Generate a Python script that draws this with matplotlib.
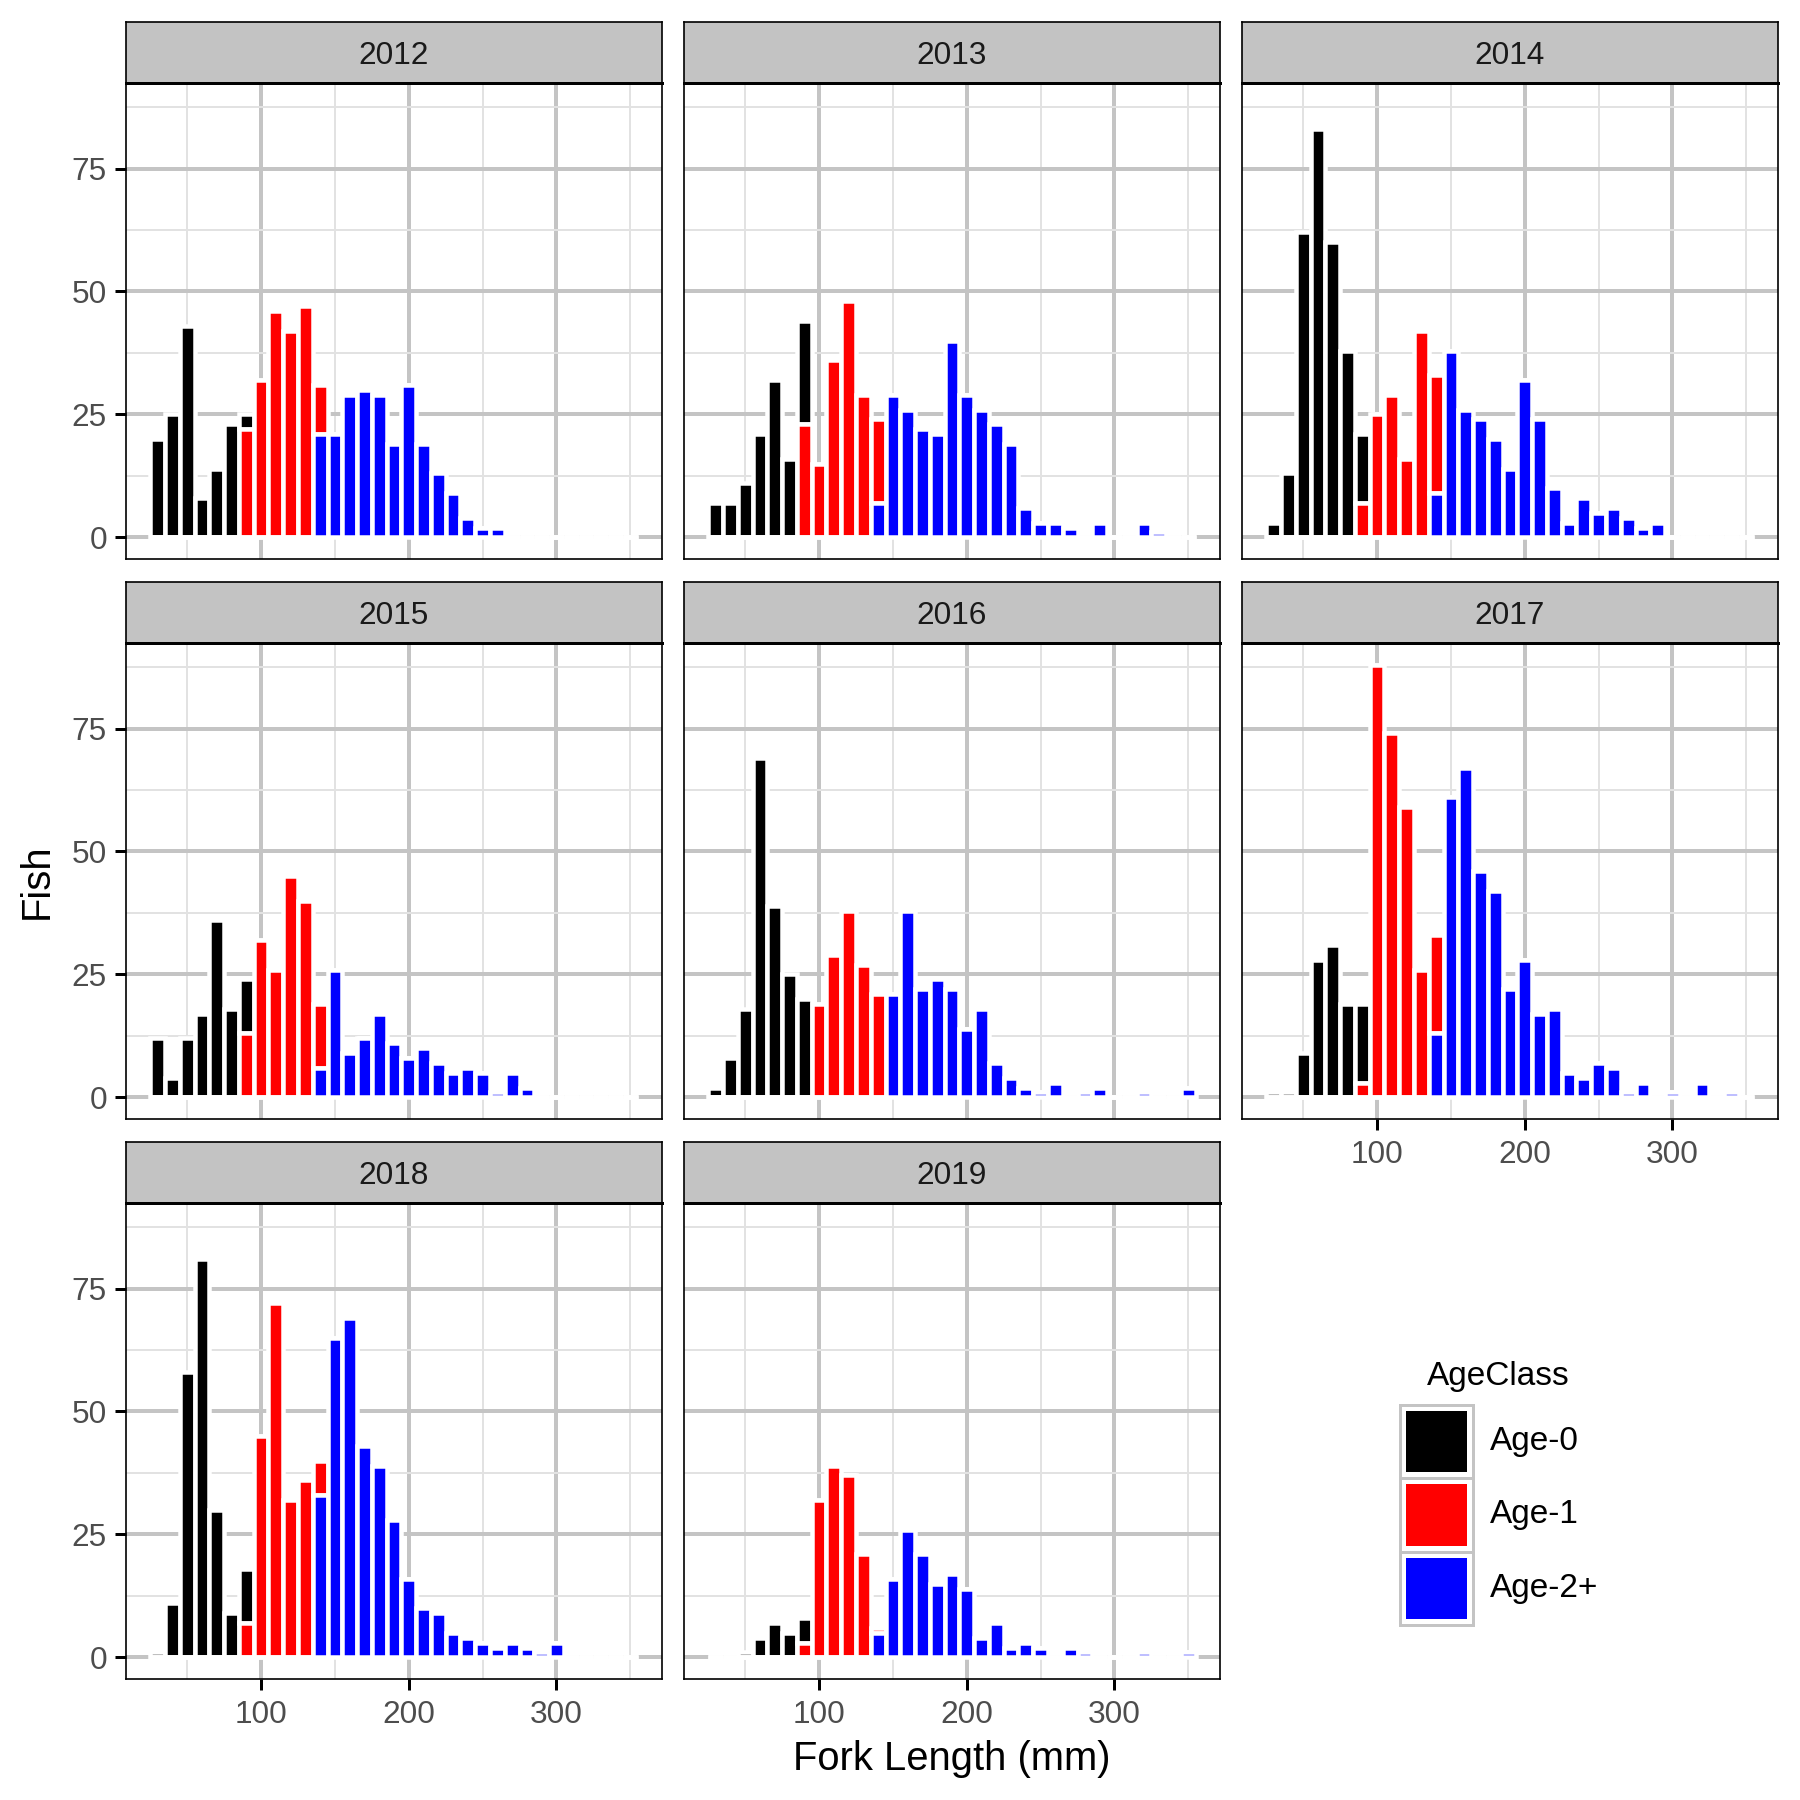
import numpy as np
import matplotlib.pyplot as plt
from matplotlib.patches import Rectangle

plt.rcParams['font.family'] = ['Liberation Sans', 'DejaVu Sans']

# 10 mm bins, centres 30..350
fork_length = list(range(30, 360, 10))

# counts per bin
age0_2012 = [20, 25, 43, 8, 14, 23, 3] + [0] * 26
age1_2012 = [0] * 6 + [22, 32, 46, 42, 47, 10] + [0] * 21
age2_2012 = [0] * 11 + [21, 21, 29, 30, 29, 19, 31, 19, 13, 9, 4, 2, 2] + [0] * 9

age0_2013 = [7, 7, 11, 21, 32, 16, 21] + [0] * 26
age1_2013 = [0] * 6 + [23, 15, 36, 48, 29, 17] + [0] * 21
age2_2013 = [0] * 11 + [7, 29, 26, 22, 21, 40, 29, 26, 23, 19, 6, 3, 3, 2, 0, 3, 0, 0, 3, 1, 0, 0]

age0_2014 = [3, 13, 62, 83, 60, 38, 14] + [0] * 26
age1_2014 = [0] * 6 + [7, 25, 29, 16, 42, 24] + [0] * 21
age2_2014 = [0] * 11 + [9, 38, 26, 24, 20, 14, 32, 24, 10, 3, 8, 5, 6, 4, 2, 3] + [0] * 6

age0_2015 = [12, 4, 12, 17, 36, 18, 11] + [0] * 26
age1_2015 = [0] * 6 + [13, 32, 26, 45, 40, 13] + [0] * 21
age2_2015 = [0] * 11 + [6, 26, 9, 12, 17, 11, 8, 10, 7, 5, 6, 5, 1, 5, 2] + [0] * 7

age0_2016 = [2, 8, 18, 69, 39, 25, 20] + [0] * 26
age1_2016 = [0] * 7 + [19, 29, 38, 27, 21] + [0] * 21
age2_2016 = [0] * 12 + [21, 38, 22, 24, 22, 14, 18, 7, 4, 2, 1, 3, 0, 1, 2, 0, 0, 1, 0, 0, 2]

age0_2017 = [1, 1, 9, 28, 31, 19, 16] + [0] * 26
age1_2017 = [0] * 6 + [3, 88, 74, 59, 26, 20] + [0] * 21
age2_2017 = [0] * 11 + [13, 61, 67, 46, 42, 22, 28, 17, 18, 5, 4, 7, 6, 1, 3, 0, 1, 0, 3, 0, 1, 0]

age0_2018 = [1, 11, 58, 81, 30, 9, 11] + [0] * 26
age1_2018 = [0] * 6 + [7, 45, 72, 32, 36, 7] + [0] * 21
age2_2018 = [0] * 11 + [33, 65, 69, 43, 39, 28, 16, 10, 9, 5, 4, 3, 2, 3, 2, 1, 3] + [0] * 5

age0_2019 = [0, 0, 1, 4, 7, 5, 5] + [0] * 26
age1_2019 = [0] * 6 + [3, 32, 39, 37, 21, 1] + [0] * 21
age2_2019 = [0] * 11 + [5, 16, 26, 21, 15, 17, 14, 4, 7, 2, 3, 2, 0, 2, 1, 0, 0, 0, 1, 0, 0, 1]

years = ['2012', '2013', '2014', '2015', '2016', '2017', '2018', '2019']
counts = {
    '2012': (age0_2012, age1_2012, age2_2012),
    '2013': (age0_2013, age1_2013, age2_2013),
    '2014': (age0_2014, age1_2014, age2_2014),
    '2015': (age0_2015, age1_2015, age2_2015),
    '2016': (age0_2016, age1_2016, age2_2016),
    '2017': (age0_2017, age1_2017, age2_2017),
    '2018': (age0_2018, age1_2018, age2_2018),
    '2019': (age0_2019, age1_2019, age2_2019),
}
age_classes = ['Age-0', 'Age-1', 'Age-2+']
colors = ['black', 'red', 'blue']

W = H = 1800


def fig_rect(x, y, w, h):
    # pixel box (top-left origin) -> figure fraction
    return [x / W, 1 - (y + h) / H, w / W, h / H]


fig = plt.figure(figsize=(7.5, 7.5), dpi=240)

col_left = [126, 684, 1242]
strip_top = [22, 582, 1142]
panel_w, strip_h, panel_h = 536, 61, 476
x_axis_years = ['2017', '2018', '2019']

for i, year in enumerate(years):
    r, c = divmod(i, 3)
    ax = fig.add_axes(fig_rect(col_left[c], strip_top[r] + strip_h, panel_w, panel_h))
    a0, a1, a2 = [np.array(v) for v in counts[year]]
    x = np.array(fork_length)
    # ggplot draws Age-0 first, stacked on top
    ax.bar(x, a0, bottom=a2 + a1, width=10, color=colors[0], edgecolor='white', linewidth=1.35)
    ax.bar(x, a1, bottom=a2, width=10, color=colors[1], edgecolor='white', linewidth=1.35)
    ax.bar(x, a2, width=10, color=colors[2], edgecolor='white', linewidth=1.35)

    ax.set_xlim(8.5, 371.5)
    ax.set_ylim(-4.4, 92.4)
    ax.set_xticks([100, 200, 300])
    ax.set_xticks([50, 150, 250, 350], minor=True)
    ax.set_yticks([0, 25, 50, 75])
    ax.set_yticks([12.5, 37.5, 62.5, 87.5], minor=True)
    ax.grid(which='major', color='#C4C4C4', linewidth=1.2)
    ax.grid(which='minor', color='#E2E2E2', linewidth=0.6)
    ax.set_axisbelow(True)
    for s in ax.spines.values():
        s.set_color('black')
        s.set_linewidth(0.5)

    show_x = year in x_axis_years
    show_y = c == 0
    ax.tick_params(axis='x', which='major', bottom=show_x, labelbottom=show_x,
                   length=3.2, width=0.9, pad=3, labelsize=9.5,
                   labelcolor='#4D4D4D', color='black')
    ax.tick_params(axis='y', which='major', left=show_y, labelleft=show_y,
                   length=3.2, width=0.9, pad=2.5, labelsize=9.5,
                   labelcolor='#4D4D4D', color='black')
    ax.tick_params(which='minor', length=0)

    sax = fig.add_axes(fig_rect(col_left[c], strip_top[r], panel_w, strip_h))
    sax.set_facecolor('#C3C3C3')
    sax.set_xticks([])
    sax.set_yticks([])
    for s in sax.spines.values():
        s.set_color('black')
        s.set_linewidth(0.5)
    sax.spines['bottom'].set_linewidth(0.9)
    sax.text(0.5, 0.5, year, ha='center', va='center_baseline', fontsize=9.5, color='#1A1A1A',
             transform=sax.transAxes)

fig.text(952 / W, 1 - 1770 / H, 'Fork Length (mm)', ha='center', va='baseline', fontsize=12)
fig.text(37 / W, 1 - 881 / H, 'Fish', ha='center', va='center', rotation=90, fontsize=12)

# legend drawn in pixel space
lax = fig.add_axes([0, 0, 1, 1])
lax.set_xlim(0, W)
lax.set_ylim(H, 0)
lax.axis('off')
lax.text(1498, 1376, 'AgeClass', ha='center', va='center', fontsize=10)
key = 73.3
for k, (lab, col) in enumerate(zip(age_classes, colors)):
    y0 = 1405 + k * key
    lax.add_patch(Rectangle((1400, y0), key, key, facecolor='white', edgecolor='#C4C4C4', linewidth=0.9))
    lax.add_patch(Rectangle((1406, y0 + 6), key - 12, key - 12, facecolor=col, edgecolor='none'))
    lax.text(1490, y0 + key / 2, lab, ha='left', va='center', fontsize=10)

fig.savefig('out.png', dpi=240)
